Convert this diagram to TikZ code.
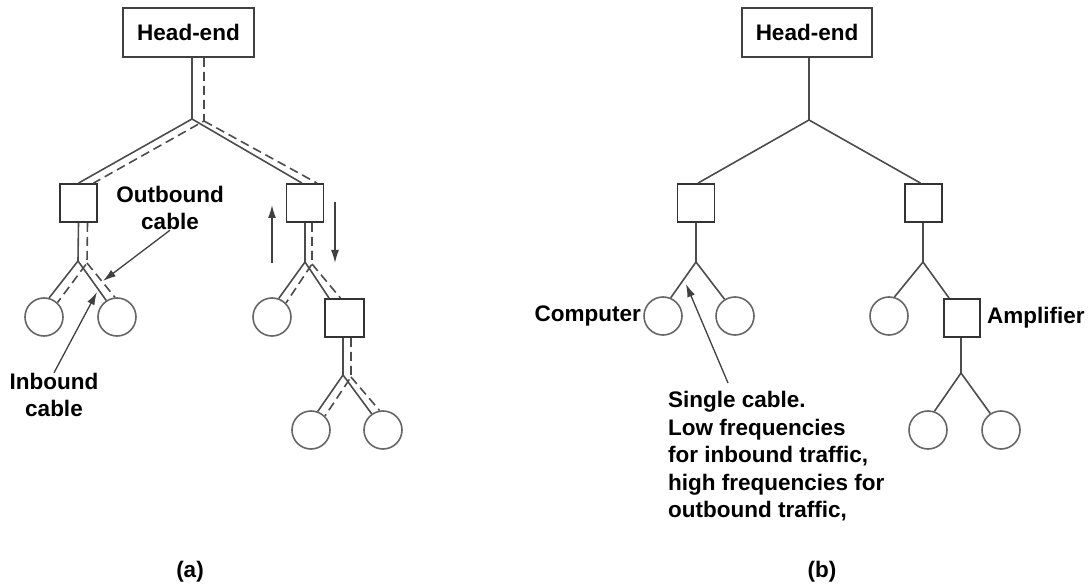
\documentclass[tikz,border=0pt]{standalone}
\usepackage{fontspec}
\setmainfont{Liberation Sans}
\usetikzlibrary{arrows.meta,calc}
\begin{document}
\begin{tikzpicture}[x=1pt,y=-1pt,
  font=\fontsize{22.5}{27.5}\selectfont\bfseries,
  unit/.style={draw=black!80, line width=1.8pt, minimum width=37pt, minimum height=38pt, inner sep=0pt},
  headbox/.style={draw=black!75, line width=1.8pt, minimum width=131pt, minimum height=49pt, inner sep=0pt},
  station/.style={circle, draw=black!60, line width=1.6pt, minimum size=38pt, inner sep=0pt},
  wire/.style={draw=black!70, line width=1.6pt},
  fwd/.style={wire, dash pattern=on 9pt off 5pt},
  pointer/.style={draw=black!75, line width=1.3pt, -{Latex[length=13pt,width=8pt]}},
  lbl/.style={inner sep=0pt, align=center}
]
\useasboundingbox (0,0) rectangle (1088,588);

% ---------- (a) separate inbound and outbound cables ----------
\node[headbox] (hea) at (188.5,32.5) {Head-end};
\node[unit] (a1) at (78.5,203) {};
\node[unit] (a2) at (305,203) {};
\node[unit, minimum width=39pt] (a3) at (344.5,318) {};
\node[station] (ca1) at (44,317) {};
\node[station] (ca2) at (117,317) {};
\node[station] (ca3) at (272,317) {};
\node[station] (ca4) at (311,430) {};
\node[station] (ca5) at (383,430) {};

% trunk
\coordinate (ja) at (192,119);
\coordinate (jad) at (204,121);
\draw[wire] (hea.south -| ja) -- (ja) -- (a1.north);
\draw[wire] (ja) -- ([xshift=-3pt]a2.north);
\draw[fwd] (hea.south -| jad) -- (jad) -- ([xshift=15pt]a1.north);
\draw[fwd] (jad) -- ([xshift=12pt]a2.north);

% left amplifier
\coordinate (j1) at (78,261);
\coordinate (j1d) at (87,263);
\draw[wire] (a1.south) -- (j1) -- (ca1.75);
\draw[wire] (j1) -- (ca2.123);
\draw[fwd] ([xshift=9pt]a1.south) -- (j1d) -- (ca1.47);
\draw[fwd] (j1d) -- (ca2.96);

% right amplifier
\coordinate (j2) at (305,262);
\coordinate (j2d) at (312,264);
\draw[wire] (a2.south) -- (j2) -- (ca3.70);
\draw[wire] (j2) -- ([xshift=5pt]a3.north west);
\draw[fwd] ([xshift=7pt]a2.south) -- (j2d) -- (ca3.45);
\draw[fwd] (j2d) -- ([xshift=-4pt]a3.north);

% lower amplifier
\coordinate (j3) at (343,375);
\coordinate (j3d) at (351,377);
\draw[wire] ([xshift=-1.5pt]a3.south) -- (j3) -- (ca4.70);
\draw[wire] (j3) -- (ca5.125);
\draw[fwd] ([xshift=6.5pt]a3.south) -- (j3d) -- (ca4.45);
\draw[fwd] (j3d) -- (ca5.100);

% direction arrows
\coordinate (upT) at (272,263);
\coordinate (upH) at (272,205);
\draw[pointer] (upT) -- (upH);
\coordinate (dnT) at (335,202);
\coordinate (dnH) at (335,263);
\draw[pointer] (dnT) -- (dnH);

% labels
\node[lbl] (outl) at (170,208) {Outbound\\cable};
\coordinate (outtip) at (103,281);
\draw[pointer] (outl.south) -- (outtip);
\node[lbl] (inl) at (54,395) {Inbound\\cable};
\coordinate (intip) at (97,292);
\draw[pointer] (inl.north) -- (intip);

\node (capa) at (190,572) {(a)};

% ---------- (b) single cable ----------
\node[headbox, minimum width=130pt] (heb) at (807,32.5) {Head-end};
\node[unit] (b1) at (696,203) {};
\node[unit] (b2) at (923.5,203) {};
\node[unit, minimum width=36pt] (b3) at (962,318) {};
\node[station] (cb1) at (663,316) {};
\node[station] (cb2) at (735,316) {};
\node[station] (cb3) at (889,316) {};
\node[station] (cb4) at (928,430) {};
\node[station] (cb5) at (1001,430) {};

\coordinate (jb) at (809,120);
\draw[wire] (heb.south -| jb) -- (jb) -- ([xshift=2pt]b1.north);
\draw[wire] (jb) -- ([xshift=-3pt]b2.north);
\coordinate (jb1) at (696,262);
\draw[wire] (b1.south) -- (jb1) -- (cb1.67);
\draw[wire] (jb1) -- (cb2.122);
\coordinate (jb2) at (923,262);
\draw[wire] (b2.south -| jb2) -- (jb2) -- (cb3.74);
\draw[wire] (jb2) -- ([xshift=6pt]b3.north west);
\coordinate (jb3) at (961,373);
\draw[wire] (b3.south -| jb3) -- (jb3) -- (cb4.71);
\draw[wire] (jb3) -- (cb5.123);

\node[anchor=east, inner sep=0pt] (comp) at (641,316) {Computer};
\node[anchor=west, inner sep=0pt] (amp) at (987,318) {Amplifier};

\node[anchor=north west, inner sep=0pt, align=left] (note) at (668,391)
  {Single cable.\\Low frequencies\\for inbound traffic,\\high frequencies for\\outbound traffic,};
\coordinate (sctail) at (728,383);
\coordinate (sctip) at (686,284);
\draw[pointer] (sctail) -- (sctip);

\node (capb) at (822,572) {(b)};
\end{tikzpicture}
\end{document}
